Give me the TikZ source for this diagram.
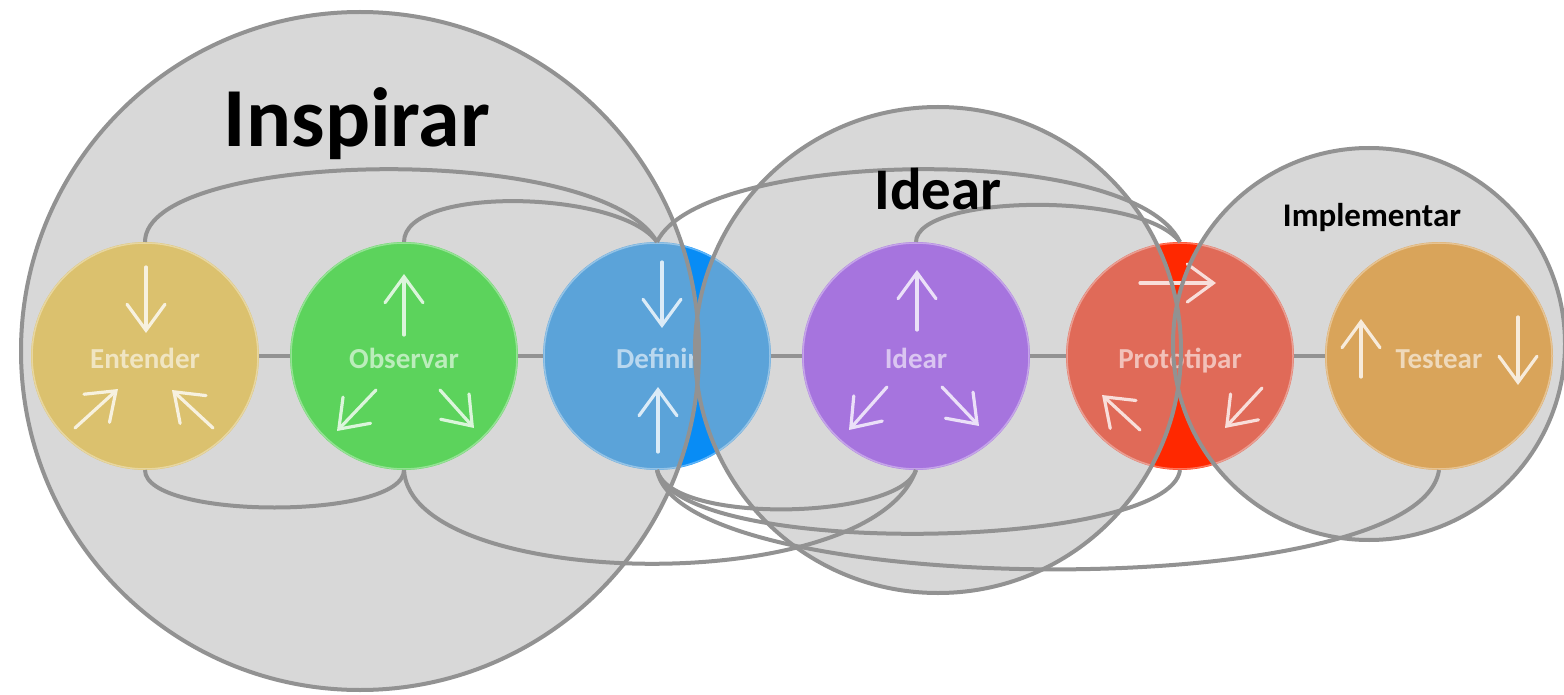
\documentclass[tikz,border=0pt]{standalone}
\usepackage{fontspec}
\setmainfont{Carlito}
\usetikzlibrary{arrows.meta,positioning,calc}
\definecolor{entcolor}{RGB}{219,193,110}
\definecolor{obscolor}{RGB}{92,211,92}
\definecolor{defcolor}{RGB}{91,163,217}
\definecolor{defbright}{RGB}{8,140,245}
\definecolor{idecolor}{RGB}{166,116,222}
\definecolor{procolor}{RGB}{224,106,88}
\definecolor{probright}{RGB}{255,40,0}
\definecolor{tescolor}{RGB}{217,164,90}
\definecolor{fasegray}{RGB}{216,216,216}
\definecolor{linegray}{RGB}{146,146,146}

\begin{document}
\begin{tikzpicture}[
    x=1pt, y=-1pt,
    etapa/.style={circle, minimum size=228pt, inner sep=0pt, outer sep=0pt},
    enlace/.style={draw=linegray, line width=4pt},
    rim/.style={draw=white, draw opacity=0.35, line width=1.5pt},
    rotulo/.style={text=#1!42!white, font=\bfseries\fontsize{29}{29}\selectfont, anchor=base},
    flecha/.style={draw=#1!22!white, line width=3.2pt, line cap=round, -{Straight Barb[length=26pt,width=38pt,line cap=round]}},
    titulo/.style={font=\bfseries\fontsize{#1}{#1}\selectfont, anchor=base}
]
\useasboundingbox (0,0) rectangle (1564,695);
\fill[white] (0,0) rectangle (1564,695);

% centres of the three phases
\coordinate (insp) at (360,351);
\coordinate (idea) at (938,350);
\coordinate (impl) at (1369,344);

% the six steps
\node[etapa] (ent) at (145,356) {};
\node[etapa, right=31pt of ent] (obs) {};
\node[etapa, right=25pt of obs] (def) {};
\node[etapa, right=31pt of def] (ide) {};
\node[etapa, right=36pt of ide] (pro) {};
\node[etapa, right=31pt of pro] (tes) {};

% bright parts left outside the phases
\fill[defbright] (def) circle (114pt);
\fill[probright] (pro) circle (114pt);

% phases
\foreach \c/\r in {insp/339, idea/243, impl/196}
  \fill[fasegray] (\c) circle (\r pt);

% links between neighbours
\draw[enlace] (ent) -- (obs);
\draw[enlace] (obs) -- (def);
\draw[enlace] (def) -- (ide);
\draw[enlace] (ide) -- (pro);
\draw[enlace] (pro) -- (tes);

% steps
\fill[entcolor] (ent) circle (114pt);
\fill[obscolor] (obs) circle (114pt);
\fill[idecolor] (ide) circle (114pt);
\fill[tescolor] (tes) circle (114pt);
\begin{scope}
  \clip (insp) circle (339pt);
  \fill[defcolor] (def) circle (114pt);
\end{scope}
\begin{scope}
  \clip (idea) circle (243pt);
  \fill[defcolor] (def) circle (114pt);
  \fill[procolor] (pro) circle (114pt);
\end{scope}
\begin{scope}
  \clip (impl) circle (196pt);
  \fill[procolor] (pro) circle (114pt);
\end{scope}
\foreach \n in {ent,obs,def,ide,pro,tes}
  \draw[rim] (\n) circle (113pt);

% step names
\node[rotulo=entcolor] (tent) at ([shift={(0,12)}]ent.center) {Entender};
\node[rotulo=obscolor] (tobs) at ([shift={(0,12)}]obs.center) {Observar};
\node[rotulo=defcolor] (tdef) at ([shift={(0,12)}]def.center) {Definir};
\node[rotulo=idecolor] (tide) at ([shift={(0,12)}]ide.center) {Idear};
\node[rotulo=procolor] (tpro) at ([shift={(0,12)}]pro.center) {Prototipar};
\node[rotulo=tescolor] (ttes) at ([shift={(0,12)}]tes.center) {Testear};

% arrows inside the steps
\foreach \n/\col/\a/\b/\c/\d in {
    ent/entcolor/1/-89/1/-23, ent/entcolor/-70/72/-27/33, ent/entcolor/68/72/27/34,
    obs/obscolor/0/-21/0/-82, obs/obscolor/-28/34/-67/75, obs/obscolor/36/34/70/72,
    def/defcolor/5/-94/5/-28, def/defcolor/1/96/1/31,
    ide/idecolor/1/-26/1/-86, ide/idecolor/-29/31/-67/74, ide/idecolor/26/31/63/70,
    pro/procolor/-40/-73/36/-73, pro/procolor/-40/74/-78/39, pro/procolor/82/32/45/72,
    tes/tescolor/-78/21/-78/-37, tes/tescolor/79/-39/79/29}
  \draw[flecha=\col] ($(\n)+(\a,\b)$) -- ($(\n)+(\c,\d)$);

% phase outlines
\foreach \c/\r in {insp/339, idea/243, impl/196}
  \draw[enlace] (\c) circle (\r pt);

% arcs over the top
\draw[enlace] (ent.north) .. controls +(0,-92) and +(-57,-102) .. (def.north);
\draw[enlace] (obs.north) .. controls +(0,-57) and +(-37,-52) .. (def.north);
\draw[enlace] (def.north) .. controls +(43,-92) and +(-50,-102) .. (pro.north);
\draw[enlace] (ide.north) .. controls +(0,-47) and +(-40,-52) .. (pro.north);

% arcs underneath
\draw[enlace] (ent.south) .. controls +(0,50) and +(0,50) .. (obs.south);
\draw[enlace] (obs.south) .. controls +(6,120) and +(-46,130) .. (ide.south);
\draw[enlace] (def.south) .. controls +(13,55) and +(-16,50) .. (ide.south);
\draw[enlace] (def.south) .. controls +(23,90) and +(-10,80) .. (pro.south);
\draw[enlace] (def.south) .. controls +(23,130) and +(-19,135) .. (tes.south);

% phase titles
\node[titulo=84] (tinsp) at (357,147) {Inspirar};
\node[titulo=59] (tidea) at (938,210) {Idear};
\node[titulo=33] (timpl) at (1372,227) {Implementar};

\end{tikzpicture}
\end{document}
